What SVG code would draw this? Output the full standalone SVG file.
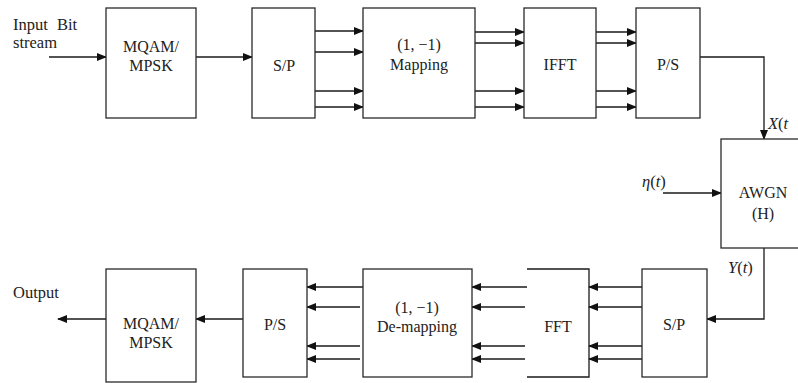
<svg xmlns="http://www.w3.org/2000/svg" width="798" height="383" viewBox="0 0 798 383">
<style>
.box{fill:#fff;stroke:#2a2a2a;stroke-width:1.3}
.ln{fill:none;stroke:#1a1a1a;stroke-width:1.3}
text{font-family:'Liberation Serif','Times New Roman','DejaVu Serif',serif;fill:#222}
.t{font-size:16px;text-anchor:middle}
.l{font-size:16.5px}
.i{font-style:italic}
</style>
<defs>
<marker id="ah" markerWidth="10" markerHeight="8" refX="9" refY="4" orient="auto" markerUnits="userSpaceOnUse">
<path d="M0,0 L10,4 L0,8 Z" fill="#111"/>
</marker>
</defs>
<rect width="798" height="383" fill="#fff"/>

<g id="connectors">
<line class="ln" x1="49" y1="57" x2="106" y2="57" marker-end="url(#ah)"/>
<line class="ln" x1="196" y1="57" x2="252" y2="57" marker-end="url(#ah)"/>
<line class="ln" x1="315" y1="31" x2="363" y2="31" marker-end="url(#ah)"/>
<line class="ln" x1="315" y1="52" x2="363" y2="52" marker-end="url(#ah)"/>
<line class="ln" x1="315" y1="91" x2="363" y2="91" marker-end="url(#ah)"/>
<line class="ln" x1="315" y1="107" x2="363" y2="107" marker-end="url(#ah)"/>
<line class="ln" x1="475" y1="32" x2="524" y2="32" marker-end="url(#ah)"/>
<line class="ln" x1="475" y1="43" x2="524" y2="43" marker-end="url(#ah)"/>
<line class="ln" x1="475" y1="91" x2="524" y2="91" marker-end="url(#ah)"/>
<line class="ln" x1="475" y1="107" x2="524" y2="107" marker-end="url(#ah)"/>
<line class="ln" x1="596" y1="32" x2="636" y2="32" marker-end="url(#ah)"/>
<line class="ln" x1="596" y1="43" x2="636" y2="43" marker-end="url(#ah)"/>
<line class="ln" x1="590" y1="91" x2="636" y2="91" marker-end="url(#ah)"/>
<line class="ln" x1="590" y1="107" x2="636" y2="107" marker-end="url(#ah)"/>
<polyline class="ln" points="700,57 764,57 764,139" marker-end="url(#ah)"/>
<line class="ln" x1="663" y1="193" x2="721" y2="193" marker-end="url(#ah)"/>
<polyline class="ln" points="764,248 764,319 707,319" marker-end="url(#ah)"/>
<line class="ln" x1="642" y1="287" x2="589" y2="287" marker-end="url(#ah)"/>
<line class="ln" x1="642" y1="307" x2="589" y2="307" marker-end="url(#ah)"/>
<line class="ln" x1="642" y1="346" x2="589" y2="346" marker-end="url(#ah)"/>
<line class="ln" x1="642" y1="359" x2="589" y2="359" marker-end="url(#ah)"/>
<line class="ln" x1="527" y1="287" x2="472" y2="287" marker-end="url(#ah)"/>
<line class="ln" x1="525" y1="307" x2="472" y2="307" marker-end="url(#ah)"/>
<line class="ln" x1="525" y1="346" x2="472" y2="346" marker-end="url(#ah)"/>
<line class="ln" x1="525" y1="359" x2="472" y2="359" marker-end="url(#ah)"/>
<line class="ln" x1="363" y1="287" x2="307" y2="287" marker-end="url(#ah)"/>
<line class="ln" x1="360" y1="307" x2="307" y2="307" marker-end="url(#ah)"/>
<line class="ln" x1="360" y1="346" x2="307" y2="346" marker-end="url(#ah)"/>
<line class="ln" x1="360" y1="359" x2="307" y2="359" marker-end="url(#ah)"/>
<line class="ln" x1="243" y1="319" x2="196" y2="319" marker-end="url(#ah)"/>
<line class="ln" x1="106" y1="319" x2="58" y2="319" marker-end="url(#ah)"/>
</g>

<g id="labels">
<text class="l" x="13" y="30" word-spacing="5">Input Bit</text>
<text class="l" x="13" y="48">stream</text>
<text class="l" x="13" y="298">Output</text>
<text class="l" x="768" y="129"><tspan class="i">X</tspan>(<tspan class="i">t</tspan></text>
<text class="l" x="642" y="187"><tspan class="i">η</tspan>(<tspan class="i">t</tspan>)</text>
<text class="l" x="728" y="273"><tspan class="i">Y</tspan>(<tspan class="i">t</tspan>)</text>
</g>

<g id="mqam_tx">
<rect class="box" x="106" y="8" width="90" height="110"/>
<text class="t" x="151" y="52">MQAM/</text>
<text class="t" x="151" y="71">MPSK</text>
</g>
<g id="sp_tx">
<rect class="box" x="252" y="8" width="63" height="110"/>
<text class="t" x="284" y="71">S/P</text>
</g>
<g id="mapping">
<rect class="box" x="363" y="8" width="112" height="110"/>
<text class="t" x="419" y="50">(1, −1)</text>
<text class="t" x="419" y="70">Mapping</text>
</g>
<g id="ifft">
<rect class="box" x="524" y="8" width="72" height="110"/>
<text class="t" x="560" y="70">IFFT</text>
</g>
<g id="ps_tx">
<rect class="box" x="636" y="8" width="64" height="110"/>
<text class="t" x="668" y="70">P/S</text>
</g>
<g id="awgn">
<rect class="box" x="721" y="139" width="90" height="109"/>
<text class="t" x="763" y="198">AWGN</text>
<text class="t" x="763" y="219">(H)</text>
</g>
<g id="sp_rx">
<rect class="box" x="642" y="269" width="65" height="108"/>
<text class="t" x="674" y="330">S/P</text>
</g>
<g id="fft">
<polyline class="ln" points="527,269 589,269 589,377 527,377"/>
<text class="t" x="558" y="332">FFT</text>
</g>
<g id="demapping">
<rect class="box" x="363" y="269" width="109" height="108"/>
<text class="t" x="417" y="313">(1, −1)</text>
<text class="t" x="417" y="332">De-mapping</text>
</g>
<g id="ps_rx">
<rect class="box" x="243" y="269" width="64" height="108"/>
<text class="t" x="275" y="330">P/S</text>
</g>
<g id="mqam_rx">
<rect class="box" x="106" y="269" width="90" height="113"/>
<text class="t" x="151" y="329">MQAM/</text>
<text class="t" x="151" y="348">MPSK</text>
</g>
</svg>
